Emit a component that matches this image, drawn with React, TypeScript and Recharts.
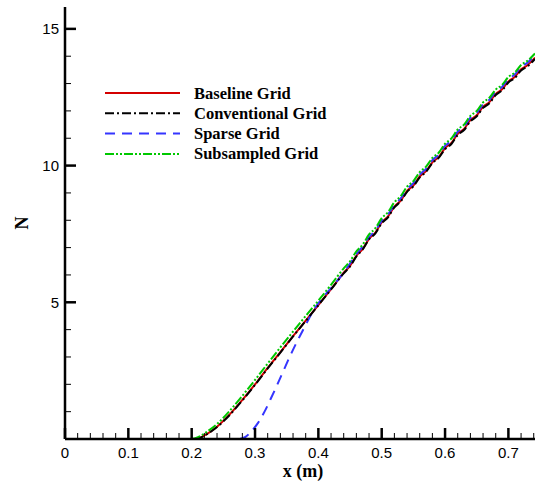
import { LineChart, Line, XAxis, YAxis, Label } from 'recharts'

// N versus streamwise position x (m) for four grid variants
const baselineX = [0.205, 0.215, 0.225, 0.24, 0.26, 0.28, 0.3, 0.32, 0.34, 0.36, 0.38, 0.4, 0.42, 0.44, 0.45, 0.46, 0.47, 0.48, 0.49, 0.5, 0.51, 0.52, 0.53, 0.54, 0.55, 0.56, 0.57, 0.58, 0.59, 0.6, 0.61, 0.62, 0.63, 0.64, 0.65, 0.66, 0.67, 0.68, 0.69, 0.7, 0.71, 0.72, 0.73, 0.742]
const baselineN = [0, 0.07, 0.2, 0.45, 0.9, 1.43, 2.0, 2.6, 3.18, 3.76, 4.33, 4.9, 5.48, 6.08, 6.33, 6.7, 6.95, 7.32, 7.55, 7.92, 8.14, 8.5, 8.72, 9.07, 9.27, 9.6, 9.8, 10.12, 10.31, 10.64, 10.83, 11.16, 11.34, 11.66, 11.84, 12.15, 12.32, 12.62, 12.79, 13.08, 13.24, 13.52, 13.67, 13.95]

const conventionalX = baselineX
const conventionalN = [0, 0.06, 0.19, 0.44, 0.88, 1.41, 1.98, 2.58, 3.16, 3.75, 4.32, 4.89, 5.47, 6.06, 6.31, 6.68, 6.93, 7.3, 7.52, 7.89, 8.11, 8.47, 8.69, 9.04, 9.24, 9.57, 9.77, 10.09, 10.28, 10.6, 10.79, 11.12, 11.3, 11.62, 11.8, 12.11, 12.28, 12.58, 12.75, 13.04, 13.2, 13.48, 13.63, 13.9]

const sparseX = [0.276, 0.285, 0.295, 0.305, 0.315, 0.325, 0.335, 0.345, 0.355, 0.365, 0.375, 0.385, 0.395, 0.405, 0.42, 0.44, 0.45, 0.46, 0.47, 0.48, 0.49, 0.5, 0.51, 0.52, 0.53, 0.54, 0.55, 0.56, 0.57, 0.58, 0.59, 0.6, 0.61, 0.62, 0.63, 0.64, 0.65, 0.66, 0.67, 0.68, 0.69, 0.7, 0.71, 0.72, 0.73, 0.742]
const sparseN = [0, 0.08, 0.3, 0.6, 1.0, 1.48, 1.98, 2.5, 3.02, 3.5, 3.95, 4.4, 4.8, 5.12, 5.52, 6.08, 6.42, 6.76, 7.05, 7.38, 7.63, 7.97, 8.22, 8.56, 8.8, 9.13, 9.36, 9.67, 9.88, 10.2, 10.4, 10.72, 10.91, 11.24, 11.43, 11.75, 11.93, 12.24, 12.41, 12.71, 12.88, 13.17, 13.33, 13.61, 13.76, 14.05]

const subsampledX = [0.2, 0.21, 0.225, 0.24, 0.26, 0.28, 0.3, 0.32, 0.34, 0.36, 0.38, 0.4, 0.42, 0.44, 0.45, 0.46, 0.47, 0.48, 0.49, 0.5, 0.51, 0.52, 0.53, 0.54, 0.55, 0.56, 0.57, 0.58, 0.59, 0.6, 0.61, 0.62, 0.63, 0.64, 0.65, 0.66, 0.67, 0.68, 0.69, 0.7, 0.71, 0.72, 0.73, 0.742]
const subsampledN = [0, 0.07, 0.28, 0.55, 1.03, 1.58, 2.16, 2.76, 3.35, 3.93, 4.5, 5.06, 5.64, 6.24, 6.5, 6.86, 7.11, 7.48, 7.71, 8.08, 8.3, 8.66, 8.88, 9.23, 9.43, 9.76, 9.96, 10.28, 10.47, 10.8, 10.99, 11.32, 11.5, 11.82, 12.0, 12.31, 12.48, 12.78, 12.95, 13.24, 13.4, 13.68, 13.83, 14.1]

const xMajorTicks = [0, 0.1, 0.2, 0.3, 0.4, 0.5, 0.6, 0.7]
const xMajorLabels = ['0', '0.1', '0.2', '0.3', '0.4', '0.5', '0.6', '0.7']
const yMajorTicks = [5, 10, 15]
const yMajorLabels = ['5', '10', '15']

// minor ticks every 0.02 on x and every 1 on N
const xAllTicks: number[] = []
for (let i = 0; i <= 37; i++) xAllTicks.push(Math.round(i * 2) / 100)
const yAllTicks: number[] = []
for (let i = 0; i <= 15; i++) yAllTicks.push(i)

const toPoints = (xs: number[], ns: number[]) => xs.map((x, i) => ({ x, n: ns[i] }))

const series = [
  { name: 'Baseline Grid', data: toPoints(baselineX, baselineN), color: '#d40000', dash: undefined },
  { name: 'Sparse Grid', data: toPoints(sparseX, sparseN), color: '#3535ff', dash: '10 7' },
  { name: 'Conventional Grid', data: toPoints(conventionalX, conventionalN), color: '#000000', dash: '9 3 2 3' },
  { name: 'Subsampled Grid', data: toPoints(subsampledX, subsampledN), color: '#00c800', dash: '9 2 2 2 2 2' },
]
const legendOrder = ['Baseline Grid', 'Conventional Grid', 'Sparse Grid', 'Subsampled Grid']

const tickFont = '"Liberation Sans", Arial, sans-serif'
const titleFont = '"Liberation Serif", "Times New Roman", serif'

const XTick = (props: any) => {
  const { x, y, payload } = props
  const idx = xMajorTicks.findIndex((t) => Math.abs(t - payload.value) < 1e-6)
  const major = idx >= 0
  return (
    <g>
      <line x1={x} x2={x} y1={y} y2={y - (major ? 11 : 6)} stroke="#000" strokeWidth={major ? 2.5 : 1} />
      {major && (
        <text x={x} y={y + 13} textAnchor="middle" dominantBaseline="central" fontFamily={tickFont} fontSize={15} fill="#000">
          {xMajorLabels[idx]}
        </text>
      )}
    </g>
  )
}

const YTick = (props: any) => {
  const { x, y, payload } = props
  if (payload.value === 0) return <g />
  const idx = yMajorTicks.indexOf(payload.value)
  const major = idx >= 0
  return (
    <g>
      <line x1={x} x2={x + (major ? 11 : 6)} y1={y} y2={y} stroke="#000" strokeWidth={major ? 2.5 : 1} />
      {major && (
        <text x={x - 6} y={y} textAnchor="end" dominantBaseline="central" fontFamily={tickFont} fontSize={15} fill="#000">
          {yMajorLabels[idx]}
        </text>
      )}
    </g>
  )
}

export default function App() {
  return (
    <div style={{ position: 'absolute', left: 0, top: 0, width: 535, height: 481, background: '#fff' }}>
      <LineChart width={535} height={481} margin={{ top: 7, right: 0, bottom: 0, left: 0 }}>
        <XAxis
          type="number"
          dataKey="x"
          domain={[0, 0.742]}
          allowDataOverflow
          ticks={xAllTicks}
          interval={0}
          tick={<XTick />}
          tickLine={false}
          tickSize={0}
          tickMargin={0}
          height={42}
          axisLine={{ stroke: '#000', strokeWidth: 2.5 }}
        >
          <Label
            value="x (m)"
            position="insideBottom"
            offset={4}
            dx={3}
            style={{ fontFamily: titleFont, fontWeight: 'bold', fontSize: 18, fill: '#000' }}
          />
        </XAxis>
        <YAxis
          type="number"
          dataKey="n"
          domain={[0, 15.8]}
          allowDataOverflow
          ticks={yAllTicks}
          interval={0}
          tick={<YTick />}
          tickLine={false}
          tickSize={0}
          tickMargin={0}
          width={65}
          axisLine={{ stroke: '#000', strokeWidth: 2.5 }}
        >
          <Label
            content={(p: any) => {
              const cy = p.viewBox.y + p.viewBox.height / 2
              return (
                <text
                  x={22}
                  y={cy}
                  transform={`rotate(-90, 22, ${cy})`}
                  textAnchor="middle"
                  dominantBaseline="central"
                  fontFamily={titleFont}
                  fontWeight="bold"
                  fontSize={18}
                  fill="#000"
                >
                  N
                </text>
              )
            }}
          />
        </YAxis>
        {series.map((s) => (
          <Line
            key={s.name}
            data={s.data}
            dataKey="n"
            name={s.name}
            type="monotone"
            stroke={s.color}
            strokeWidth={2}
            strokeDasharray={s.dash}
            dot={false}
            activeDot={false}
            isAnimationActive={false}
          />
        ))}
      </LineChart>
      {/* legend block in the upper left of the plot */}
      <svg width={535} height={481} style={{ position: 'absolute', left: 0, top: 0, pointerEvents: 'none' }}>
        {legendOrder.map((name, i) => {
          const s = series.find((e) => e.name === name)!
          const y = 93 + i * 20.3
          return (
            <g key={name}>
              <line x1={105} x2={180} y1={y} y2={y} stroke={s.color} strokeWidth={2} strokeDasharray={s.dash} />
              <text x={194} y={y} dominantBaseline="central" fontFamily={titleFont} fontWeight="bold" fontSize={16.5} fill="#000">
                {name}
              </text>
            </g>
          )
        })}
      </svg>
    </div>
  )
}
